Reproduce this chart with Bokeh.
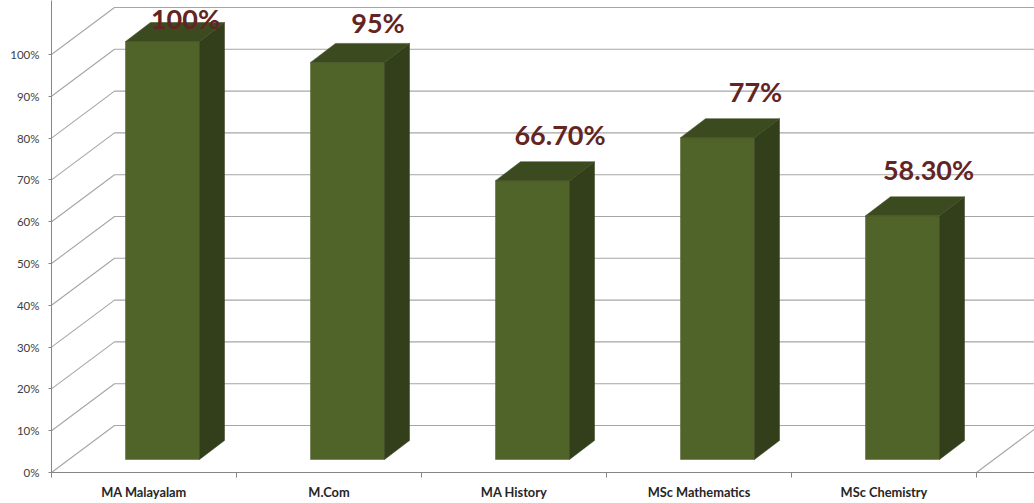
from bokeh.plotting import figure
from bokeh.models import ColumnDataSource, Range1d, LinearAxis, FixedTicker
from bokeh.embed import file_html
from bokeh.resources import INLINE
from bokeh.core.properties import value

categories = ["MA Malayalam", "M.Com", "MA History", "MSc Mathematics", "MSc Chemistry"]
values = [100, 95, 66.7, 77, 58.3]
value_labels = ["100%", "95%", "66.70%", "77%", "58.30%"]
y_ticks = [0, 10, 20, 30, 40, 50, 60, 70, 80, 90, 100]

# Layout: pixels per unit of each scale, and the oblique projection in pixels
PX_X, PX_Y = 185.0, 4.18
W, H, LEFT, BOTTOM = 1034, 503, 51, 31
WALL_DX, WALL_DY = 63 / PX_X, 47 / PX_Y
BAR_X0, BAR_W = 74 / PX_X, 74 / PX_X
BAR_BASE = 13 / PX_Y
BAR_DX, BAR_DY = 25 / PX_X, 19 / PX_Y
LABEL_DX = [41.5, 49, 46, 56.5, 44.5]
LABEL_DY = [-23, -40, -46, -46, -46]

n = len(categories)
p = figure(width=W, height=H, output_backend="svg", toolbar_location=None,
           x_range=Range1d(0, (W - LEFT) / PX_X), y_range=Range1d(0, (H - BOTTOM) / PX_Y),
           min_border_left=LEFT, min_border_right=0, min_border_top=0, min_border_bottom=BOTTOM,
           x_axis_location=None, y_axis_location=None)
p.outline_line_color = None
p.grid.visible = False
p.background_fill_color = "white"

# Walls: each gridline runs up the side wall, then along the back wall
x_end = (W - LEFT) / PX_X + 1
grid_xs = [[0, WALL_DX, x_end] for _ in y_ticks]
grid_ys = [[t, t + WALL_DY, t + WALL_DY] for t in y_ticks]
p.multi_line(grid_xs, grid_ys, line_color="#a6a6a6", line_width=1.1)
p.line([n, n + WALL_DX], [0, WALL_DY], line_color="#a6a6a6", line_width=1.1)

# Bars
fx, fy, sx, sy, tx, ty = [], [], [], [], [], []
for i, v in enumerate(values):
    l, r = i + BAR_X0, i + BAR_X0 + BAR_W
    b, t = BAR_BASE, BAR_BASE + v
    fx.append([l, r, r, l]); fy.append([b, b, t, t])
    sx.append([r, r + BAR_DX, r + BAR_DX, r]); sy.append([b, b + BAR_DY, t + BAR_DY, t])
    tx.append([l, r, r + BAR_DX, l + BAR_DX]); ty.append([t, t, t + BAR_DY, t + BAR_DY])
p.patches(fx, fy, fill_color="#506329", line_color="#506329", line_width=0.5)
p.patches(sx, sy, fill_color="#333f1b", line_color="#333f1b", line_width=0.5)
p.patches(tx, ty, fill_color="#3c4a1f", line_color="#3c4a1f", line_width=0.5)

# Value labels
src = ColumnDataSource(dict(x=[i + 0.5 for i in range(n)], y=[BAR_BASE + v for v in values],
                            t=value_labels, dx=LABEL_DX, dy=LABEL_DY))
p.text("x", "y", text="t", x_offset="dx", y_offset="dy", source=src, text_align="center",
       text_baseline="middle", text_color="#632523", text_font=value("Lato"),
       text_font_style="bold", text_font_size="27px")

# Axes
ya = LinearAxis(ticker=FixedTicker(ticks=y_ticks),
                major_label_overrides={t: f"{t}%" for t in y_ticks})
ya.axis_line_color = "#868686"
ya.major_tick_line_color = "#868686"
ya.major_tick_out = 3
ya.major_tick_in = 0
ya.minor_tick_line_color = None
ya.major_label_standoff = 9
ya.major_label_text_font = "Lato"
ya.major_label_text_font_size = "11.5px"
ya.major_label_text_color = "#404040"
p.add_layout(ya, "left")

xa = LinearAxis(ticker=FixedTicker(ticks=list(range(n + 1))),
                major_label_overrides={i: "" for i in range(n + 1)})
xa.axis_line_color = "#868686"
xa.major_tick_line_color = "#868686"
xa.major_tick_out = 5
xa.major_tick_in = 0
xa.minor_tick_line_color = None
xa.major_label_text_font_size = "1px"
xa.major_label_standoff = 0
p.add_layout(xa, "below")

xb = LinearAxis(ticker=FixedTicker(ticks=[i + 0.5 for i in range(n)]),
                major_label_overrides={i + 0.5: c for i, c in enumerate(categories)})
xb.axis_line_color = None
xb.major_tick_line_color = None
xb.minor_tick_line_color = None
xb.major_tick_out = 0
xb.major_tick_in = 0
xb.major_label_standoff = 6
xb.major_label_text_font = "Lato"
xb.major_label_text_font_style = "bold"
xb.major_label_text_font_size = "12.8px"
xb.major_label_text_color = "#262626"
p.add_layout(xb, "below")

open("out.html", "w").write(file_html(p, INLINE))
